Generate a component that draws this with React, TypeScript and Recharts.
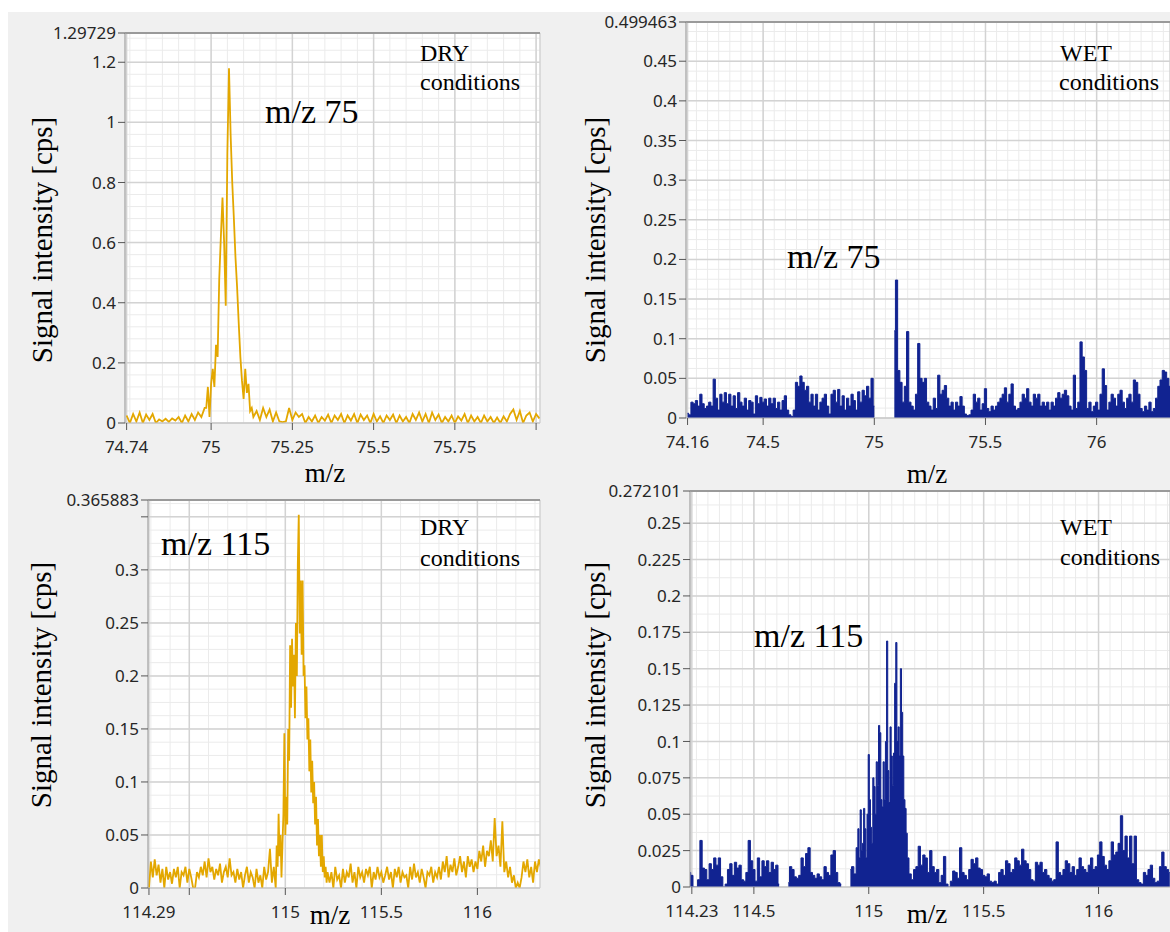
import React from "react";
import {
  ComposedChart,
  Line,
  Area,
  XAxis,
  YAxis,
  CartesianGrid,
  ReferenceLine,
} from "recharts";

const DRY75_A = [
  0.025, 0.0, 0.03, 0.005, 0.035, 0.0, 0.028, 0.01, 0.03, 0.0,
  0.012, 0.005, 0.014, 0.004, 0.015, 0.008, 0.02, 0.0, 0.025, 0.005,
  0.03, 0.01, 0.035, 0.02, 0.05,
]; // 74.74 .. 74.98, step 0.01
const DRY75_B = [
  0.05, 0.12, 0.02, 0.13, 0.18, 0.12, 0.26, 0.22, 0.48, 0.62,
  0.75, 0.6, 0.39, 0.9, 1.18, 0.96, 0.8, 0.68, 0.55, 0.45,
  0.33, 0.22, 0.14, 0.08, 0.18, 0.1, 0.13, 0.04, 0.05, 0.02,
]; // 74.985 .. 75.13, step 0.005
const DRY75_C = [
  0.04, 0.01, 0.05, 0.02, 0.045, 0.005, 0.035, 0.005, 0.003, 0.005,
  0.05, 0.01, 0.035, 0.02, 0.03, 0.0, 0.02, 0.005, 0.025, 0.0,
  0.02, 0.008, 0.028, 0.0, 0.025, 0.01, 0.03, 0.0, 0.025, 0.008,
  0.03, 0.0, 0.028, 0.01, 0.025, 0.0, 0.03, 0.005, 0.022, 0.0,
  0.025, 0.01, 0.028, 0.0, 0.025, 0.005, 0.02, 0.0, 0.03, 0.01,
  0.035, 0.005, 0.03, 0.0, 0.035, 0.01, 0.028, 0.0, 0.02, 0.005,
  0.025, 0.0, 0.022, 0.008, 0.03, 0.0, 0.025, 0.005, 0.02, 0.0,
  0.025, 0.005, 0.02, 0.0, 0.018, 0.0, 0.022, 0.005, 0.03, 0.045,
  0.01, 0.04, 0.0, 0.025, 0.035, 0.005, 0.03, 0.015,
]; // 75.14 .. 76.01, step 0.01

const WET75 = [
  0.006, 0.004, 0.02, 0.018, 0.022, 0.015, 0.03, 0.018, 0.012, 0.015,
  0.02, 0.015, 0.049, 0.025, 0.01, 0.03, 0.02, 0.032, 0.018, 0.03,
  0.015, 0.028, 0.012, 0.032, 0.02, 0.015, 0.025, 0.01, 0.022, 0.02,
  0.005, 0.028, 0.018, 0.026, 0.02, 0.024, 0.015, 0.025, 0.018, 0.025,
  0.012, 0.02, 0.01, 0.022, 0.028, 0.01, 0.004, 0.002, 0.01, 0.045,
  0.04, 0.053, 0.045, 0.035, 0.04, 0.02, 0.03, 0.015, 0.03, 0.01,
  0.02, 0.025, 0.03, 0.015, 0.005, 0.03, 0.035, 0.02, 0.036, 0.015,
  0.028, 0.01, 0.025, 0.015, 0.03, 0.022, 0.01, 0.033, 0.02, 0.035,
  0.028, 0.04, 0.025, 0.05, 0.015, null, null, null, null, null,
  null, null, null, 0.11, 0.174, 0.06, 0.045, 0.02, 0.04, 0.109,
  0.02, 0.015, 0.01, 0.03, 0.094, 0.05, 0.045, 0.05, 0.02, 0.015,
  0.01, 0.025, 0.012, 0.054, 0.03, 0.035, 0.041, 0.025, 0.015, 0.02,
  0.01, 0.02, 0.015, 0.027, 0.015, 0.005, 0.003, 0.004, 0.01, 0.03,
  0.02, 0.025, 0.01, 0.018, 0.037, 0.012, 0.008, 0.015, 0.01, 0.015,
  0.02, 0.025, 0.03, 0.038, 0.02, 0.03, 0.043, 0.015, 0.01, 0.012,
  0.02, 0.03, 0.025, 0.037, 0.02, 0.015, 0.03, 0.025, 0.03, 0.015,
  0.02, 0.015, 0.02, 0.01, 0.02, 0.015, 0.025, 0.032, 0.025, 0.03,
  0.035, 0.028, 0.015, 0.01, 0.054, 0.012, 0.02, 0.096, 0.077, 0.06,
  0.012, 0.02, 0.008, 0.015, 0.02, 0.01, 0.03, 0.062, 0.041, 0.01,
  0.02, 0.03, 0.025, 0.015, 0.03, 0.035, 0.02, 0.012, 0.025, 0.03,
  0.02, 0.048, 0.045, 0.03, 0.012, 0.008, 0.015, 0.01, 0.02, 0.008,
  0.012, 0.025, 0.04, 0.048, 0.06, 0.058, 0.05, 0.04,
]; // 74.16 .. 76.33, step 0.01

const DRY115_A = [
  0.0, 0.025, 0.01, 0.027, 0.012, 0.022, 0.005, 0.018, 0.0, 0.02,
  0.008, 0.015, 0.004, 0.018, 0.01, 0.02, 0.0, 0.015, 0.012, 0.02,
  0.005, 0.018, 0.01, 0.0, 0.0, 0.015, 0.01, 0.02, 0.012, 0.025,
  0.01, 0.028, 0.015, 0.02, 0.008, 0.018, 0.012, 0.023, 0.005, 0.015,
  0.02, 0.01, 0.028, 0.012, 0.015, 0.005, 0.018, 0.008, 0.015, 0.0,
  0.012, 0.02, 0.005, 0.015, 0.01, 0.0, 0.018, 0.005, 0.012, 0.0,
  0.02, 0.008, 0.015, 0.037, 0.005, 0.02, 0.0,
]; // 114.29 .. 114.95, step 0.01
const DRY115_B = [
  0.04, 0.02, 0.07, 0.03, 0.05, 0.01, 0.04, 0.07, 0.146, 0.05,
  0.086, 0.06, 0.15, 0.12, 0.229, 0.17, 0.235, 0.19, 0.22, 0.16,
  0.25, 0.2, 0.305, 0.352, 0.24, 0.29, 0.22, 0.29, 0.2, 0.21,
  0.16, 0.19, 0.14, 0.16, 0.11, 0.14, 0.09, 0.12, 0.08, 0.1,
  0.06, 0.086, 0.04, 0.065, 0.03, 0.05, 0.02, 0.05, 0.015, 0.03,
  0.01, 0.02, 0.005, 0.015,
]; // 114.955 .. 115.22, step 0.005
const DRY115_C = [
  0.005, 0.015, 0.0, 0.02, 0.008, 0.012, 0.0, 0.018, 0.005, 0.015,
  0.01, 0.023, 0.005, 0.015, 0.0, 0.02, 0.01, 0.015, 0.005, 0.018,
  0.012, 0.02, 0.0, 0.015, 0.008, 0.02, 0.01, 0.015, 0.005, 0.012,
  0.02, 0.008, 0.015, 0.0, 0.018, 0.01, 0.02, 0.005, 0.015, 0.01,
  0.012, 0.0, 0.02, 0.008, 0.023, 0.01, 0.015, 0.005, 0.018, 0.01,
  0.0, 0.015, 0.012, 0.02, 0.005, 0.015, 0.01, 0.02, 0.008, 0.025,
  0.015, 0.03, 0.01, 0.022, 0.015, 0.028, 0.012, 0.02, 0.03, 0.015,
  0.025, 0.01, 0.03, 0.02, 0.027, 0.015, 0.025, 0.018, 0.035, 0.025,
  0.04, 0.02, 0.035, 0.03, 0.045, 0.025, 0.066, 0.03, 0.04, 0.02,
  0.063, 0.015, 0.025, 0.01, 0.02, 0.005, 0.012, 0.0, 0.005, 0.0,
  0.01, 0.025, 0.015, 0.027, 0.01, 0.02, 0.005, 0.025, 0.015, 0.027, 0.02,
]; // 115.23 .. 116.33, step 0.01

const WET115_A = [
  0.01, 0.008, 0.0, 0.0, 0.005, 0.032, 0.013, 0.012, 0.005, 0.016,
  0.012, 0.02, 0.015, 0.02, 0.007, 0.0, 0.002, 0.012, 0.016, 0.008,
  0.017, 0.013, 0.015, 0.005, 0.004, 0.01, 0.032, 0.018, 0.012, 0.004,
  0.02, 0.007, 0.018, 0.014, 0.018, 0.01, 0.017, 0.012, 0.015, 0.002,
  null, null, null, 0.003, 0.014, 0.012, 0.007, 0.006, 0.008, 0.02,
  0.014, 0.023, 0.027, 0.01, 0.008, 0.006, 0.009, 0.007, 0.005, 0.014,
  0.01, 0.008, 0.022, 0.025, 0.01, 0.003, 0.002, null, null, null,
  0.012, 0.014, 0.009, 0.027,
]; // 114.22 .. 114.95, step 0.01
const WET115_B = [
  0.04, 0.02, 0.053, 0.025, 0.03, 0.054, 0.04, 0.02, 0.05, 0.091,
  0.06, 0.041, 0.03, 0.075, 0.069, 0.05, 0.086, 0.07, 0.111, 0.106,
  0.06, 0.055, 0.086, 0.06, 0.1, 0.169, 0.08, 0.058, 0.11, 0.09,
  0.07, 0.092, 0.14, 0.168, 0.1, 0.11, 0.09, 0.15, 0.12, 0.09,
  0.06, 0.054, 0.037, 0.02,
]; // 114.955 .. 115.17, step 0.005
const WET115_C = [
  0.009, 0.005, 0.012, 0.014, 0.028, 0.015, 0.022, 0.02, 0.01, 0.025,
  0.014, 0.01, 0.012, 0.003, 0.008, 0.021, 0.002, 0.0, 0.004, 0.011,
  0.01, 0.006, 0.027, 0.01, 0.008, 0.005, 0.012, 0.019, 0.016, 0.02,
  0.013, 0.012, 0.008, 0.007, 0.009, 0.004, 0.003, 0.004, 0.002, 0.01,
  0.012, 0.008, 0.018, 0.016, 0.01, 0.012, 0.02, 0.018, 0.015, 0.026,
  0.018, 0.016, 0.012, 0.005, 0.004, 0.017, 0.015, 0.017, 0.01, 0.012,
  0.008, 0.006, 0.004, 0.005, 0.031, 0.01, 0.008, 0.012, 0.018, 0.016,
  0.01, 0.014, 0.008, 0.012, 0.02, 0.014, 0.012, 0.01, 0.015, 0.02,
  0.012, 0.014, 0.022, 0.031, 0.021, 0.015, 0.012, 0.018, 0.031, 0.022,
  0.024, 0.03, 0.049, 0.025, 0.035, 0.02, 0.035, 0.016, 0.035, 0.005,
  0.003, 0.002, 0.01, 0.008, 0.012, 0.015, 0.006, 0.003, 0.004, 0.014,
  0.024, 0.014, 0.012, 0.01,
]; // 115.18 .. 116.31, step 0.01

const DRY75_X_TICKS = [74.74, 75, 75.25, 75.5, 75.75, 76];
const DRY75_Y_TICKS = [0, 0.2, 0.4, 0.6, 0.8, 1, 1.2, 1.29729];
const WET75_X_TICKS = [74.16, 74.5, 75, 75.5, 76];
const WET75_Y_TICKS = [0, 0.05, 0.1, 0.15, 0.2, 0.25, 0.3, 0.35, 0.4, 0.45, 0.499463];
const DRY115_X_TICKS = [114.29, 114.5, 115, 115.5, 116];
const DRY115_Y_TICKS = [0, 0.05, 0.1, 0.15, 0.2, 0.25, 0.3, 0.35, 0.365883];
const WET115_X_TICKS = [114.23, 114.5, 115, 115.5, 116];
const WET115_Y_TICKS = [0, 0.025, 0.05, 0.075, 0.1, 0.125, 0.15, 0.175, 0.2, 0.225, 0.25, 0.272101];

type Row = { mz: number; v: number | null };

const block = (start: number, step: number, values: (number | null)[]): Row[] =>
  values.map((v, i) => ({ mz: +(start + i * step).toFixed(4), v }));

// evenly spaced minor grid positions (layout only)
const steps = (a: number, b: number, s: number) =>
  Array.from({ length: Math.round((b - a) / s) + 1 }, (_, i) => +(a + i * s).toFixed(5));

const YELLOW = "#e3a700";
const NAVY = "#112391";
const SERIF = "'Liberation Serif', 'Times New Roman', serif";
const TICK = { fill: "#262626", fontSize: 17, fontFamily: "'Noto Sans', sans-serif" };

interface PanelSpec {
  left: number;
  top: number;
  right: number;
  bottom: number;
  xDomain: [number, number];
  yDomain: [number, number];
  xTicks: number[];
  yTicks: number[];
  xMinor: number[];
  yMinor: number[];
  hideX?: number[];
  hideY?: number[];
  rows: Row[];
  kind: "line" | "area";
}

const panels: PanelSpec[] = [
  {
    left: 125, top: 33, right: 540, bottom: 423,
    xDomain: [74.735, 76.012], yDomain: [0, 1.29729],
    xTicks: DRY75_X_TICKS, yTicks: DRY75_Y_TICKS,
    xMinor: steps(74.75, 76.0, 0.05), yMinor: steps(0.04, 1.28, 0.04),
    hideX: [76],
    rows: [...block(74.74, 0.01, DRY75_A), ...block(74.985, 0.005, DRY75_B), ...block(75.14, 0.01, DRY75_C)],
    kind: "line",
  },
  {
    left: 686, top: 22, right: 1170, bottom: 418,
    xDomain: [74.153, 76.33], yDomain: [0, 0.499463],
    xTicks: WET75_X_TICKS, yTicks: WET75_Y_TICKS,
    xMinor: steps(74.2, 76.3, 0.05), yMinor: steps(0.0125, 0.4875, 0.0125),
    rows: block(74.16, 0.01, WET75),
    kind: "area",
  },
  {
    left: 148, top: 500, right: 540, bottom: 888,
    xDomain: [114.285, 116.326], yDomain: [0, 0.365883],
    xTicks: DRY115_X_TICKS, yTicks: DRY115_Y_TICKS,
    xMinor: steps(114.3, 116.3, 0.1), yMinor: steps(0.0125, 0.3625, 0.0125),
    hideX: [114.5], hideY: [0.35],
    rows: [...block(114.29, 0.01, DRY115_A), ...block(114.955, 0.005, DRY115_B), ...block(115.23, 0.01, DRY115_C)],
    kind: "line",
  },
  {
    left: 690, top: 491, right: 1170, bottom: 887,
    xDomain: [114.222, 116.311], yDomain: [0, 0.272101],
    xTicks: WET115_X_TICKS, yTicks: WET115_Y_TICKS,
    xMinor: steps(114.25, 116.3, 0.05), yMinor: steps(0.0125, 0.2625, 0.0125),
    rows: [...block(114.22, 0.01, WET115_A), ...block(114.955, 0.005, WET115_B), ...block(115.18, 0.01, WET115_C)],
    kind: "area",
  },
];

function Spectrum({ p }: { p: PanelSpec }) {
  const YW = 84, MT = 12, XH = 40, MR = 6;
  const w = p.right - p.left;
  const h = p.bottom - p.top;
  const fmt = (hide: number[] = []) => (v: number) => (hide.includes(v) ? "" : String(v));
  return (
    <div style={{ position: "absolute", left: p.left - YW, top: p.top - MT }}>
      <ComposedChart
        width={YW + w + MR}
        height={MT + h + XH}
        data={p.rows}
        margin={{ top: MT, right: MR, bottom: 0, left: 0 }}
      >
        <CartesianGrid fill="#ffffff" stroke="#ebebeb" horizontalValues={p.yMinor} verticalValues={p.xMinor} />
        <CartesianGrid stroke="#d3d3d3" strokeWidth={1.5} />
        <XAxis
          dataKey="mz"
          type="number"
          domain={p.xDomain}
          allowDataOverflow
          ticks={p.xTicks}
          interval={0}
          tickFormatter={fmt(p.hideX)}
          tick={TICK}
          tickLine={{ stroke: "#555555" }}
          tickSize={7}
          tickMargin={11}
          axisLine={{ stroke: "#c4c4c4" }}
          height={XH}
        />
        <YAxis
          type="number"
          domain={p.yDomain}
          allowDataOverflow
          ticks={p.yTicks}
          interval={0}
          tickFormatter={fmt(p.hideY)}
          tick={TICK}
          tickLine={{ stroke: "#555555" }}
          tickSize={7}
          tickMargin={2}
          axisLine={{ stroke: "#a6a6a6" }}
          width={YW}
        />
        {p.kind === "line" ? (
          <Line
            dataKey="v"
            type="linear"
            stroke={YELLOW}
            strokeWidth={1.8}
            dot={false}
            isAnimationActive={false}
          />
        ) : (
          <Area
            dataKey="v"
            type="step"
            stroke={NAVY}
            strokeWidth={1}
            fill={NAVY}
            fillOpacity={1}
            connectNulls={false}
            isAnimationActive={false}
          />
        )}
        <ReferenceLine y={p.yDomain[1]} stroke="#9a9a9a" strokeWidth={2} />
      </ComposedChart>
    </div>
  );
}

const yTitles = [
  { x: 42, y: 240 },
  { x: 595, y: 240 },
  { x: 41, y: 685 },
  { x: 595, y: 685 },
];
const xTitles = [
  { x: 325, y: 482 },
  { x: 927, y: 483 },
  { x: 330, y: 924 },
  { x: 927, y: 923 },
];
const notes = [
  { x: 420, y: 61, text: "DRY", size: 24 },
  { x: 420, y: 90, text: "conditions", size: 24 },
  { x: 265, y: 123, text: "m/z 75", size: 34 },
  { x: 1060, y: 61, text: "WET", size: 24 },
  { x: 1059, y: 90, text: "conditions", size: 24 },
  { x: 787, y: 268, text: "m/z 75", size: 34 },
  { x: 420, y: 535, text: "DRY", size: 24 },
  { x: 420, y: 566, text: "conditions", size: 24 },
  { x: 161, y: 555, text: "m/z 115", size: 34 },
  { x: 1060, y: 535, text: "WET", size: 24 },
  { x: 1060, y: 565, text: "conditions", size: 24 },
  { x: 754, y: 647, text: "m/z 115", size: 34 },
];

export default function App() {
  return (
    <div
      style={{
        position: "absolute",
        left: 0,
        top: 0,
        width: 1170,
        height: 932,
        overflow: "hidden",
        background: "#ffffff",
      }}
    >
      <div style={{ position: "absolute", left: 8, top: 12, width: 1162, height: 920, background: "#f0f0f0" }} />
      {panels.map((p, i) => (
        <Spectrum key={i} p={p} />
      ))}
      <svg width={1170} height={932} style={{ position: "absolute", left: 0, top: 0, pointerEvents: "none" }}>
        {yTitles.map((t, i) => (
          <text
            key={`y${i}`}
            x={t.x}
            y={t.y}
            transform={`rotate(-90 ${t.x} ${t.y})`}
            textAnchor="middle"
            dominantBaseline="central"
            fontFamily={SERIF}
            fontSize={29}
            fill="#000"
          >
            Signal intensity [cps]
          </text>
        ))}
        {xTitles.map((t, i) => (
          <text key={`x${i}`} x={t.x} y={t.y} textAnchor="middle" fontFamily={SERIF} fontSize={27} fill="#000">
            m/z
          </text>
        ))}
        {notes.map((n, i) => (
          <text key={`n${i}`} x={n.x} y={n.y} fontFamily={SERIF} fontSize={n.size} fill="#000">
            {n.text}
          </text>
        ))}
      </svg>
    </div>
  );
}
